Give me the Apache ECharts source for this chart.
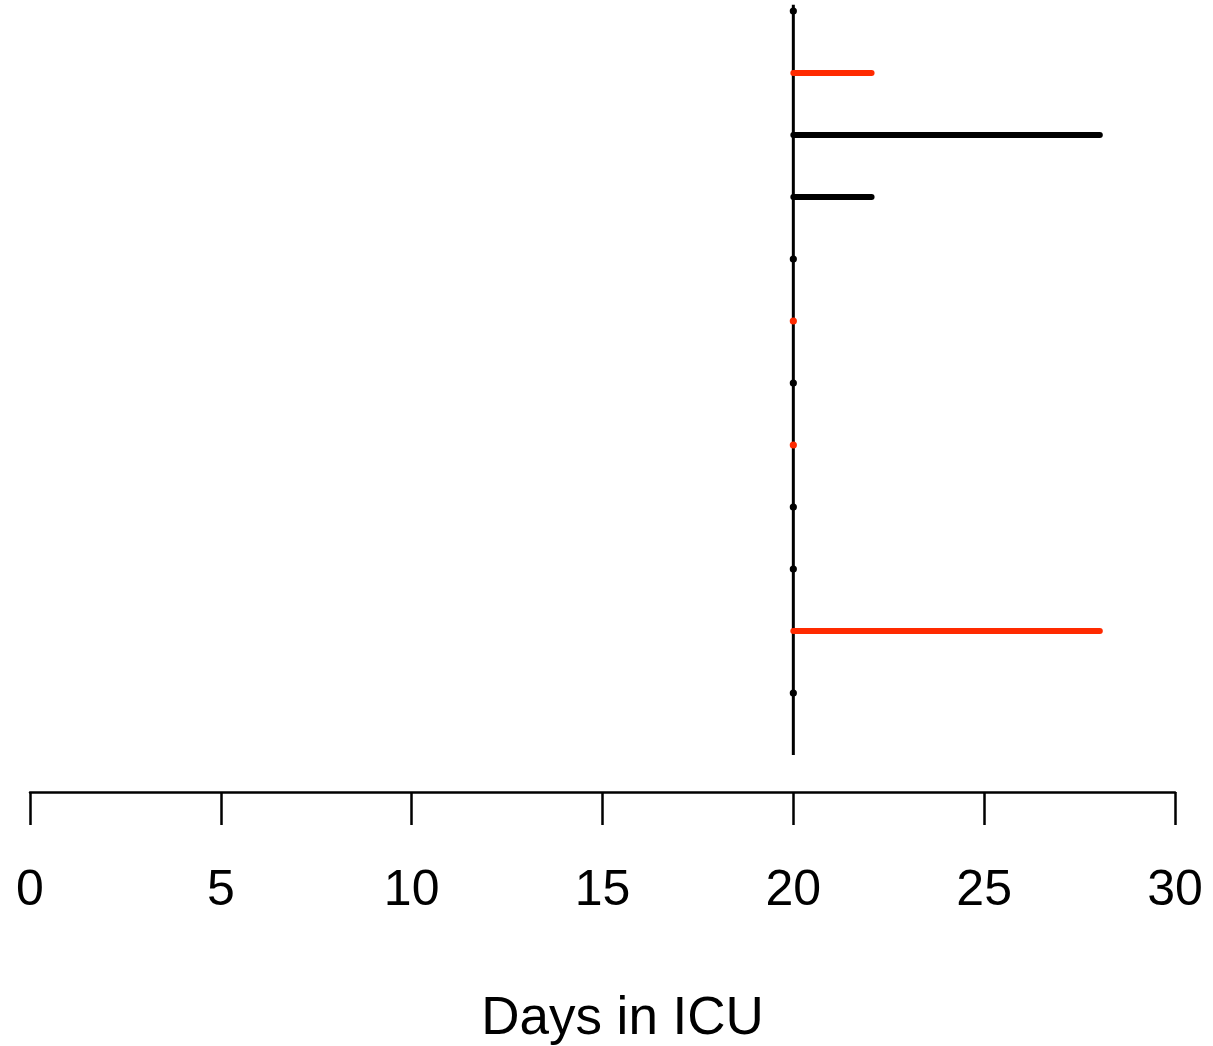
<!DOCTYPE html>
<html>
<head>
<meta charset="utf-8">
<script src="https://cdn.jsdelivr.net/npm/echarts@6/dist/echarts.min.js"></script>
<style>
  html, body { margin: 0; padding: 0; background: #fff; }
  #main { width: 1213px; height: 1046px; }
</style>
</head>
<body>
<div id="main"></div>
<script>
// one row per patient, top to bottom
var rows = [1, 2, 3, 4, 5, 6, 7, 8, 9, 10, 11, 12];
var startDay = [20, 20, 20, 20, 20, 20, 20, 20, 20, 20, 20, 20];
var endDay = [20, 22.05, 28.03, 22.05, 20, 20, 20, 20, 20, 20, 28.03, 20];
var group = ['a', 'b', 'a', 'a', 'a', 'b', 'a', 'b', 'a', 'a', 'b', 'a'];
var refDay = 20;
var xTicks = [0, 5, 10, 15, 20, 25, 30];

var colors = { a: '#000000', b: '#ff2a00' };
var font = '"Liberation Sans", Arial, Helvetica, sans-serif';

var segData = rows.map(function (r, i) {
    return [startDay[i], endDay[i], r, group[i]];
});

var myChart = echarts.init(document.getElementById('main'));
myChart.setOption({
    animation: false,
    grid: { left: 30, right: 38, top: 4.8, bottom: 291, outerBoundsMode: 'none' },
    xAxis: {
        type: 'value',
        min: xTicks[0],
        max: xTicks[xTicks.length - 1],
        interval: 5,
        offset: 37,
        axisLine: { show: true, lineStyle: { color: '#000', width: 2.5 } },
        axisTick: { show: true, length: 33, lineStyle: { color: '#000', width: 2.5 } },
        axisLabel: { color: '#000', fontSize: 50, fontFamily: font, margin: 74 },
        splitLine: { show: false },
        name: 'Days in ICU',
        nameLocation: 'middle',
        nameGap: 201,
        nameTextStyle: { color: '#000', fontSize: 53, fontFamily: font, padding: [0, 0, 0, 40] }
    },
    yAxis: {
        type: 'value',
        min: 0.9,
        max: 13,
        inverse: true,
        show: false
    },
    series: [
        {
            type: 'line',
            data: [[refDay, 0.9], [refDay, 13]],
            symbol: 'none',
            lineStyle: { color: '#000', width: 3 },
            z: 1
        },
        {
            type: 'custom',
            data: segData,
            z: 2,
            renderItem: function (params, api) {
                var p0 = api.coord([api.value(0), api.value(2)]);
                var p1 = api.coord([api.value(1), api.value(2)]);
                var c = colors[segData[params.dataIndex][3]];
                if (Math.abs(p1[0] - p0[0]) < 0.5) {
                    return {
                        type: 'circle',
                        shape: { cx: p0[0], cy: p0[1], r: 3.6 },
                        style: { fill: c }
                    };
                }
                return {
                    type: 'line',
                    shape: { x1: p0[0], y1: p0[1], x2: p1[0], y2: p1[1] },
                    style: { stroke: c, lineWidth: 6, lineCap: 'round' }
                };
            }
        }
    ]
});
</script>
</body>
</html>
